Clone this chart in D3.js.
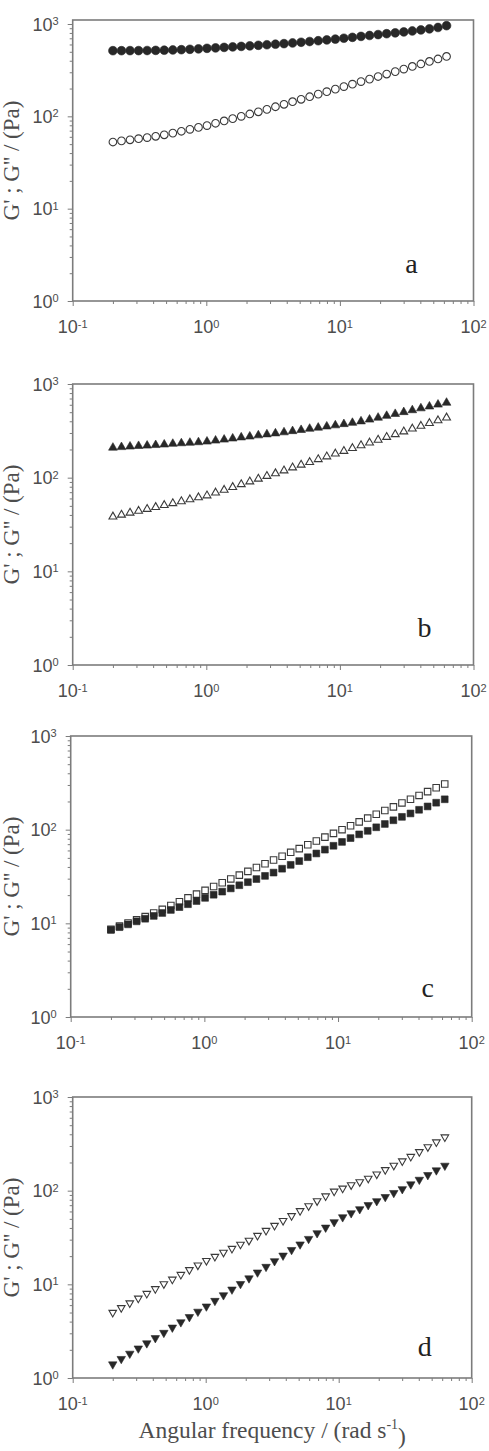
<!DOCTYPE html>
<html>
<head>
<meta charset="utf-8">
<script src="https://cdn.jsdelivr.net/npm/d3@7"></script>
<style>
  body { margin: 0; background: #fff; }
  svg { display: block; }
</style>
</head>
<body>
<div id="chart"></div>
<script>

// angular frequency (rad/s), same sweep for all four samples
var freq = [0.2, 0.2318, 0.2686, 0.3113, 0.3607, 0.418, 0.4844, 0.5614, 0.6506, 0.7539,
    0.8737, 1.012, 1.173, 1.360, 1.576, 1.826, 2.116, 2.452, 2.842, 3.293,
    3.816, 4.423, 5.125, 5.939, 6.883, 7.976, 9.244, 10.71, 12.41, 14.39,
    16.67, 19.32, 22.39, 25.95, 30.07, 34.84, 40.38, 46.79, 54.23, 62.84];

// G' (filled symbols) and G'' (open symbols), Pa
var aStorage = [514, 514, 515, 515, 516, 518, 520, 523, 527, 532, 538, 545, 551, 558, 565, 572, 580, 588, 596, 604,
    613, 623, 634, 646, 659, 672, 686, 701, 717, 734, 751, 768, 785, 802, 820, 840, 862, 886, 917, 959];
var aLoss = [52.7, 54.2, 55.7, 57.3, 58.9, 60.8, 63.1, 65.8, 68.9, 72.3, 75.9, 79.4, 84.1, 89.1, 94.4, 100, 106, 112, 119, 127,
    135, 144, 153, 163, 174, 185, 197, 210, 223, 238, 253, 270, 287, 305, 325, 347, 369, 393, 418, 445];

var bStorage = [209, 212, 215, 218, 220, 223, 226, 230, 233, 236, 239, 243, 249, 255, 262, 269, 275, 283, 290, 297,
    305, 314, 323, 333, 342, 352, 362, 373, 385, 399, 417, 437, 457, 479, 501, 525, 550, 575, 603, 631];
var bLoss = [38.3, 40.1, 42.1, 44.1, 46.2, 48.4, 50.8, 53.2, 55.8, 58.5, 61.4, 64.4, 69.0, 73.9, 79.1, 84.8, 90.8, 97.2, 104, 111,
    119, 128, 137, 146, 157, 168, 180, 192, 206, 221, 236, 253, 271, 290, 310, 333, 356, 381, 408, 437];

var cStorage = [8.49, 9.10, 9.75, 10.5, 11.2, 12.0, 12.9, 13.9, 14.9, 16.0, 17.3, 18.7, 20.2, 21.8, 23.6, 25.5, 27.5, 29.7, 32.1, 34.8,
    38.3, 42.1, 46.2, 50.8, 55.7, 61.2, 67.3, 74.0, 81.3, 89.1, 97.1, 106, 115, 126, 137, 149, 163, 177, 194, 211];
var cLoss = [8.63, 9.34, 10.1, 10.9, 11.8, 12.9, 14.1, 15.5, 17.0, 18.7, 20.5, 22.5, 24.7, 27.1, 29.8, 32.7, 35.9, 39.4, 43.3, 47.5,
    52.1, 57.3, 62.8, 69.0, 75.7, 83.2, 91.2, 100, 110, 121, 133, 146, 160, 175, 193, 211, 232, 255, 280, 307];

var dStorage = [1.40, 1.60, 1.82, 2.07, 2.35, 2.67, 3.04, 3.46, 3.94, 4.48, 5.11, 5.81, 6.67, 7.66, 8.81, 10.1, 11.6, 13.4, 15.4, 17.7,
    20.3, 23.3, 26.7, 30.6, 35.2, 40.4, 46.2, 52.1, 57.5, 63.5, 70.2, 77.4, 85.7, 94.6, 104, 117, 131, 147, 165, 185];
var dLoss = [5.00, 5.62, 6.31, 7.09, 7.96, 8.95, 10.1, 11.3, 12.7, 14.3, 16.0, 17.9, 19.8, 21.9, 24.1, 26.7, 29.4, 33.2, 37.5, 42.4,
    47.8, 53.9, 60.9, 68.7, 77.6, 87.5, 98.4, 106, 115, 124, 135, 150, 167, 186, 207, 231, 260, 293, 330, 373];

var panelLetters = ['a', 'b', 'c', 'd'];
var xTicks = [0.1, 1, 10, 100];
var xTickExp = ['-1', '0', '1', '2'];
var yTicks = [1, 10, 100, 1000];
var yTickExp = ['0', '1', '2', '3'];

// layout of the four stacked panels
var panelTop = [20, 384, 736, 1097];
var panelBottom = [301, 665, 1017, 1378];
var panelLeft = [72.7, 72.7, 70.7, 72.7];
var panelRight = [473.5, 473.5, 471.7, 471.7];
var yTopInset = [4, 0, 0, 0];
var letterDx = [62, 49, 44, 47];
var letterDy = [28, 28, 20, 22];

var ink = '#282828';
var axisCol = '#7c7c7c';
var textCol = '#4d4d4d';

var panels = [
    { storage: aStorage, loss: aLoss, symbol: d3.symbolCircle, fillSize: 60, openSize: 46, rot: 0 },
    { storage: bStorage, loss: bLoss, symbol: d3.symbolTriangle, fillSize: 33, openSize: 27, rot: 0 },
    { storage: cStorage, loss: cLoss, symbol: d3.symbolSquare, fillSize: 46, openSize: 42, rot: 0 },
    { storage: dStorage, loss: dLoss, symbol: d3.symbolTriangle, fillSize: 31, openSize: 25, rot: 180 }
];

var svg = d3.select('#chart')
    .append('svg')
    .attr('width', 489)
    .attr('height', 1451);

function superLabel(sel, base, exp, supSize) {
    sel.append('tspan').text(base);
    sel.append('tspan')
        .attr('font-size', supSize)
        .attr('dy', '-0.5em')
        .text(exp);
}

panels.forEach(function(p, i) {

    var top = panelTop[i];
    var bottom = panelBottom[i];
    var left = panelLeft[i];
    var right = panelRight[i];

    var x = d3.scaleLog()
        .domain([0.1, 100])
        .range([left, right]);

    var y = d3.scaleLog()
        .domain([1, 1000])
        .range([bottom, top + yTopInset[i]]);

    var g = svg.append('g').attr('class', 'panel');

    // minor ticks
    var xMinor = x.ticks().filter(function(v) { return xTicks.indexOf(v) < 0; });
    var yMinor = y.ticks().filter(function(v) { return yTicks.indexOf(v) < 0; });

    g.append('g')
        .attr('transform', 'translate(0,' + bottom + ')')
        .call(d3.axisBottom(x).tickValues(xMinor).tickSize(3).tickFormat(''))
        .call(function(a) { a.select('.domain').remove(); });

    g.append('g')
        .attr('transform', 'translate(0,' + bottom + ')')
        .call(d3.axisBottom(x).tickValues(xTicks).tickSize(5).tickFormat(''))
        .call(function(a) { a.select('.domain').remove(); });

    g.append('g')
        .attr('transform', 'translate(' + left + ',0)')
        .call(d3.axisLeft(y).tickValues(yMinor).tickSize(3).tickFormat(''))
        .call(function(a) { a.select('.domain').remove(); });

    g.append('g')
        .attr('transform', 'translate(' + left + ',0)')
        .call(d3.axisLeft(y).tickValues(yTicks).tickSize(5).tickFormat(''))
        .call(function(a) { a.select('.domain').remove(); });

    g.selectAll('.tick line')
        .attr('stroke', axisCol)
        .attr('stroke-width', 1);

    // frame
    g.append('rect')
        .attr('x', left)
        .attr('y', top)
        .attr('width', right - left)
        .attr('height', bottom - top)
        .attr('fill', 'none')
        .attr('stroke', axisCol)
        .attr('stroke-width', 1.6);

    // tick labels
    g.selectAll('text.xlab')
        .data(xTicks)
        .enter()
        .append('text')
        .attr('class', 'xlab')
        .attr('x', function(d) { return x(d); })
        .attr('y', bottom + 32)
        .attr('text-anchor', 'middle')
        .attr('font-family', 'Liberation Sans, Arial, sans-serif')
        .attr('font-size', 18)
        .attr('fill', textCol)
        .each(function(d, j) {
            superLabel(d3.select(this), '10', xTickExp[j], 11);
        });

    g.selectAll('text.ylab')
        .data(yTicks)
        .enter()
        .append('text')
        .attr('class', 'ylab')
        .attr('x', left - 14)
        .attr('y', function(d) { return y(d) + 6.5; })
        .attr('text-anchor', 'end')
        .attr('font-family', 'Liberation Sans, Arial, sans-serif')
        .attr('font-size', 18)
        .attr('fill', textCol)
        .each(function(d, j) {
            superLabel(d3.select(this), '10', yTickExp[j], 11);
        });

    // y title
    g.append('text')
        .attr('transform', 'translate(19,' + ((top + bottom) / 2) + ') rotate(-90)')
        .attr('text-anchor', 'middle')
        .attr('font-family', 'Liberation Serif, Times New Roman, serif')
        .attr('font-size', 23)
        .attr('fill', textCol)
        .text("G' ; G'' / (Pa)");

    // panel letter
    g.append('text')
        .attr('x', right - letterDx[i])
        .attr('y', bottom - letterDy[i])
        .attr('text-anchor', 'middle')
        .attr('font-family', 'Liberation Serif, Times New Roman, serif')
        .attr('font-size', 28)
        .attr('fill', '#222')
        .text(panelLetters[i]);

    // series
    var openSym = d3.symbol().type(p.symbol).size(p.openSize);
    var fillSym = d3.symbol().type(p.symbol).size(p.fillSize);

    g.append('g')
        .selectAll('path')
        .data(p.loss)
        .enter()
        .append('path')
        .attr('transform', function(d, j) {
            return 'translate(' + x(freq[j]) + ',' + y(d) + ') rotate(' + p.rot + ')';
        })
        .attr('d', openSym)
        .attr('fill', '#fff')
        .attr('stroke', '#3a3a3a')
        .attr('stroke-width', 1.1);

    g.append('g')
        .selectAll('path')
        .data(p.storage)
        .enter()
        .append('path')
        .attr('transform', function(d, j) {
            return 'translate(' + x(freq[j]) + ',' + y(d) + ') rotate(' + p.rot + ')';
        })
        .attr('d', fillSym)
        .attr('fill', ink)
        .attr('stroke', ink)
        .attr('stroke-width', 0.6);
});

// x title under the last panel
var xTitle = svg.append('text')
    .attr('x', (panelLeft[3] + panelRight[3]) / 2)
    .attr('y', 1438)
    .attr('text-anchor', 'middle')
    .attr('font-family', 'Liberation Serif, Times New Roman, serif')
    .attr('font-size', 23.5)
    .attr('fill', textCol);

xTitle.append('tspan').text('Angular frequency / (rad s');
xTitle.append('tspan').attr('font-size', 14).attr('dy', '-0.65em').text('-1');
xTitle.append('tspan').attr('dy', '0.65em').attr('font-size', 23.5).text(')');

</script>
</body>
</html>
